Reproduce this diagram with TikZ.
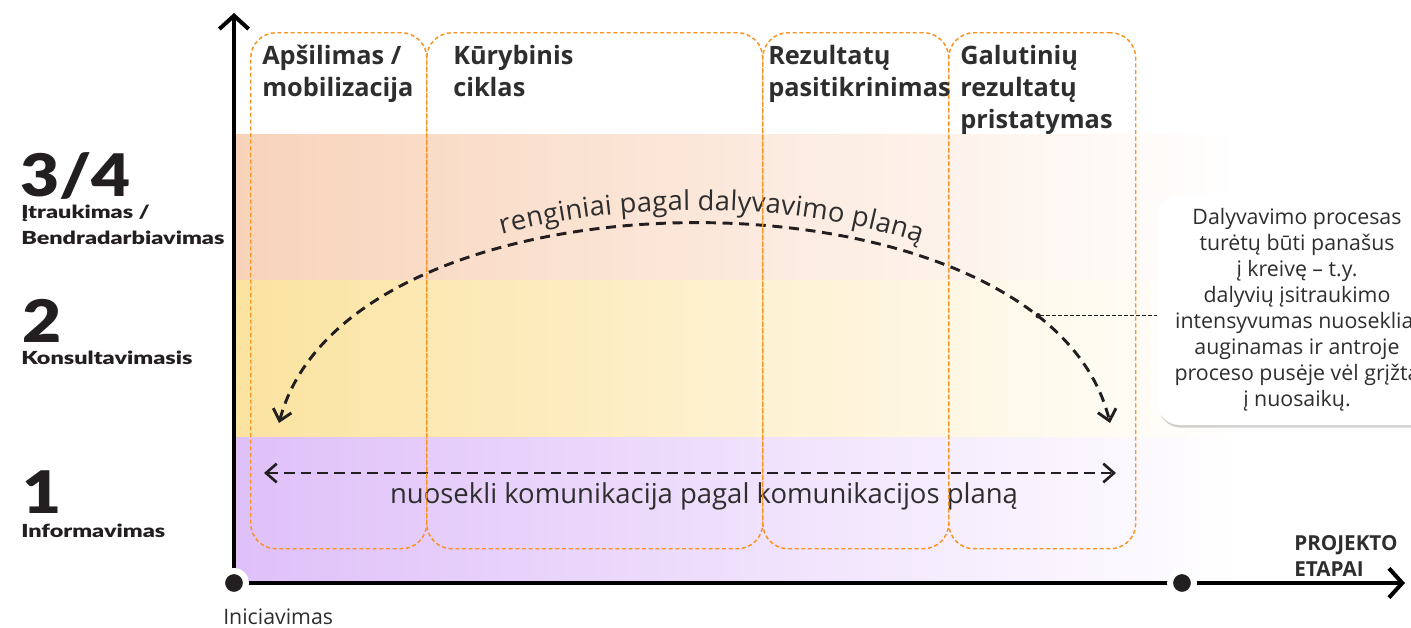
\documentclass[tikz,border=0pt]{standalone}
\usepackage{fontspec}
\setmainfont{Open Sans}
\newfontfamily\heavy{Lato Black}[FakeStretch=1.15]
\newfontfamily\heavyw{Lato Black}[FakeStretch=1.3]
\usetikzlibrary{arrows.meta,decorations.text,shadows}
\definecolor{ink}{HTML}{231F20}
\definecolor{txt}{HTML}{2E2E2E}
\definecolor{orng}{HTML}{F7931E}
\definecolor{peach}{HTML}{F8D3BA}
\definecolor{yell}{HTML}{FBE3A0}
\definecolor{lilac}{HTML}{DFC0F9}
\begin{document}
\begin{tikzpicture}[x=0.75pt,y=-0.75pt,
  phasebox/.style={draw=orng, line width=1.1pt, dash pattern=on 3pt off 2pt, rounded corners=19pt, inner sep=0pt, anchor=north west, minimum height=387pt},
  title/.style={anchor=base west, align=left, inner sep=0pt, font=\bfseries\fontsize{19}{24}\selectfont, text=txt},
  lvlnum/.style={anchor=base west, inner sep=0pt, font=\heavy\fontsize{44}{44}\selectfont, text=ink},
  lvlname/.style={anchor=base west, align=left, inner sep=0pt, font=\heavyw\fontsize{13.5}{19.5}\selectfont, text=ink},
  axis/.style={line width=3pt, draw=black},
  dotnode/.style={circle, fill=ink, draw=white, line width=4.5pt, minimum size=18pt, inner sep=0pt},
  curvearrow/.style={draw=ink, line width=2.2pt, dash pattern=on 7.5pt off 5pt, {Straight Barb[length=8pt,width=14pt]}-{Straight Barb[length=8pt,width=14pt]}},
  linearrow/.style={draw=ink, line width=2pt, dash pattern=on 8pt off 4.5pt, {Straight Barb[length=8pt,width=14pt]}-{Straight Barb[length=8pt,width=14pt]}},
  bodytext/.style={font=\fontsize{20.6}{24}\selectfont, text=txt, inner sep=0pt},
  connector/.style={draw=ink, line width=0.8pt, dash pattern=on 2.5pt off 2pt},
  callout/.style={fill=white, rounded corners=17pt, minimum width=210pt, minimum height=172.5pt, align=center, text=txt, font=\fontsize{16}{19.5}\selectfont, drop shadow={shadow xshift=1pt, shadow yshift=-2pt, opacity=0.18, fill=black}}
]
\useasboundingbox (0,0) rectangle (1411,628);
\clip (0,0) rectangle (1411,628);

% bands
\shade[left color=peach, right color=white] (234,134) rectangle (1240,280);
\shade[left color=yell, right color=white] (234,280) rectangle (1240,437);
\shade[left color=lilac, right color=white] (234,437) rectangle (1240,583);

% axes
\coordinate (o) at (234,583);
\coordinate (e) at (1182,583);
\coordinate (ytop) at (234,13);
\coordinate (xend) at (1405,583);
\draw[axis, -{Straight Barb[length=10pt,width=22pt]}] (o) -- (ytop);
\draw[axis, -{Straight Barb[length=10pt,width=22pt]}] (o) -- (xend);
\node[dotnode] (odot) at (o) {};
\node[dotnode] (edot) at (e) {};

% curve arrow
\coordinate (cL) at (279,423);
\coordinate (cR) at (1110,423);
\draw[curvearrow] (cL) .. controls (350,157) and (1045,157) .. (cR) coordinate[pos=0.84] (cp);
\path[decorate, decoration={text along path, text align={center, left indent=24pt}, raise=10pt,
  text={|\fontsize{20.5}{24}\selectfont\color{txt}|renginiai pagal dalyvavimo planą}}]
  (cL) .. controls (350,157) and (1045,157) .. (cR);

% straight arrow
\coordinate (sL) at (264,473);
\coordinate (sR) at (1116,473);
\draw[linearrow] (sL) -- (sR);
\node[bodytext] (komlbl) at (704,496) {nuosekli komunikacija pagal komunikacijos planą};

% callout
\node[callout] (note) at (1297,310) {Dalyvavimo procesas\\turėtų būti panašus\\į kreivę – t.y.\\dalyvių įsitraukimo\\intensyvumas nuosekliai\\auginamas ir antroje\\proceso pusėje vėl grįžta\\į nuosaikų.};
\draw[connector, {Circle[length=4pt]}-] (cp) -- (cp -| note.west);

% phase boxes
\node[phasebox, minimum width=132pt] (p1) at (250,32) {};
\node[phasebox, minimum width=252pt] (p2) at (426,32) {};
\node[phasebox, minimum width=139.5pt] (p3) at (762,32) {};
\node[phasebox, minimum width=140.25pt] (p4) at (948,32) {};

% titles (anchor at the baseline of the last line)
\node[title] (t1) at (262,96) {Apšilimas /\\mobilizacija};
\node[title] (t2) at (453,96) {Kūrybinis\\ciklas};
\node[title] (t3) at (768,96) {Rezultatų\\pasitikrinimas};
\node[title] (t4) at (960,128) {Galutinių\\rezultatų\\pristatymas};

% level labels
\node[lvlnum] (n34) at (20,196) {3/4};
\node[lvlname] (l34) at (21,244) {Įtraukimas /\\Bendradarbiavimas};
\node[lvlnum] (n2) at (22,342) {2};
\node[lvlname] (l2) at (21,364) {Konsultavimasis};
\node[lvlnum] (n1) at (22,513) {1};
\node[lvlname] (l1) at (21,537) {Informavimas};

% axis labels
\node[anchor=base west, align=left, inner sep=0pt, font=\bfseries\fontsize{15.5}{19.5}\selectfont, text=txt] (etapai) at (1294,576) {PROJEKTO\\ETAPAI};
\node[anchor=base west, inner sep=0pt, font=\fontsize{16}{20}\selectfont, text=txt] (inic) at (223,624) {Iniciavimas};
\end{tikzpicture}
\end{document}
